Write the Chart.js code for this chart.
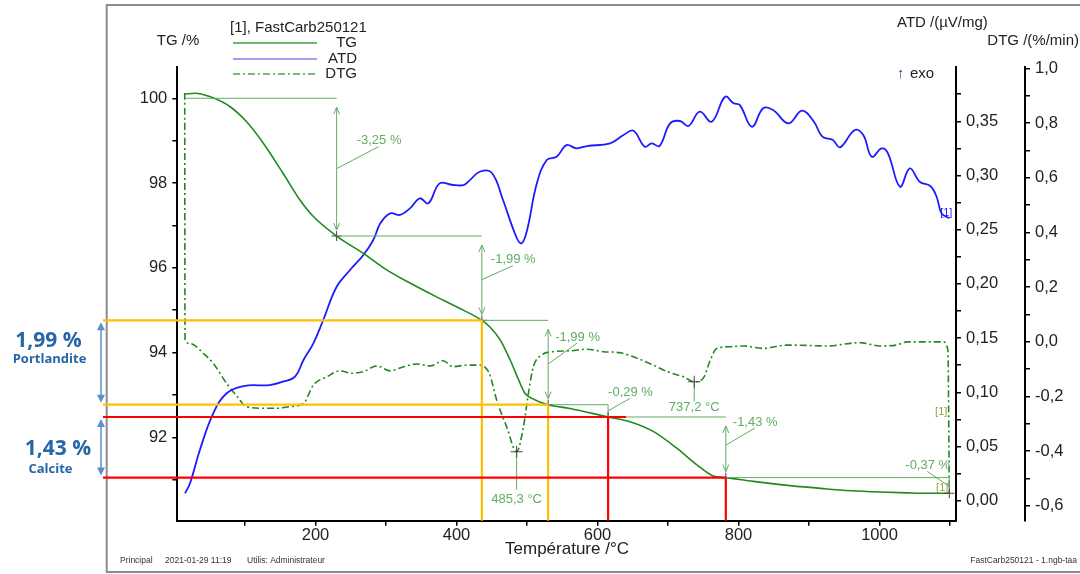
<!DOCTYPE html>
<html>
<head>
<meta charset="utf-8">
<script src="https://cdn.jsdelivr.net/npm/chart.js@4.4.1/dist/chart.umd.min.js"></script>
<style>
html,body{margin:0;padding:0;background:#fff;}
canvas{display:block;}
</style>
</head>
<body>
<canvas id="c" width="1080" height="574"></canvas>
<script>
// ---------- DATA ----------
const tgTemp  = [15, 29, 50, 79, 102, 126, 154, 178, 197, 230, 268, 301, 334, 371, 400, 436, 447, 462, 476, 488, 497, 507, 530, 561, 615, 646, 679, 712, 741, 764, 782, 821, 873, 920, 960, 1000, 1040, 1070, 1099];
const tgValue = [100.10, 100.12, 100.04, 99.80, 99.45, 98.94, 98.23, 97.60, 97.21, 96.75, 96.34, 95.95, 95.64, 95.32, 95.08, 94.76, 94.61, 94.30, 93.83, 93.36, 93.04, 92.92, 92.77, 92.68, 92.48, 92.37, 92.14, 91.75, 91.35, 91.09, 91.05, 90.96, 90.86, 90.79, 90.74, 90.71, 90.69, 90.68, 90.68];

const atdTemp  = [15, 22, 36, 55, 74, 98, 135, 154, 171, 183, 197, 211, 230, 249, 268, 282, 292, 306, 320, 334, 348, 360, 376, 393, 410, 419, 433, 450, 466, 481, 491, 499, 514, 528, 542, 556, 570, 585, 618, 637, 651, 667, 677, 688, 703, 717, 729, 745, 762, 781, 793, 802, 819, 835, 849, 871, 890, 907, 919, 934, 944, 965, 977, 989, 1003, 1012, 1029, 1043, 1057, 1072, 1081, 1088, 1099];
const atdValue = [0.0068, 0.0161, 0.0468, 0.0806, 0.0991, 0.1058, 0.1067, 0.1098, 0.1144, 0.1298, 0.1452, 0.1667, 0.1974, 0.2128, 0.2267, 0.2405, 0.2559, 0.2651, 0.2636, 0.2697, 0.2790, 0.2743, 0.2928, 0.2915, 0.2912, 0.2958, 0.3035, 0.3026, 0.2774, 0.2497, 0.2374, 0.2467, 0.2928, 0.3143, 0.3173, 0.3281, 0.3251, 0.3272, 0.3297, 0.3374, 0.3413, 0.3266, 0.3297, 0.3272, 0.3481, 0.3503, 0.3457, 0.3589, 0.3496, 0.3727, 0.3666, 0.3650, 0.3450, 0.3620, 0.3604, 0.3481, 0.3598, 0.3496, 0.3358, 0.3327, 0.3260, 0.3420, 0.3374, 0.3173, 0.3250, 0.3205, 0.2897, 0.3066, 0.2943, 0.2903, 0.2804, 0.2651, 0.2605];

const dtgTemp  = [14.5, 15, 22, 41, 55, 74, 89, 102, 126, 145, 164, 183, 197, 216, 235, 251, 268, 287, 306, 325, 344, 363, 381, 395, 415, 433, 440, 447, 457, 471, 485.3, 495, 502, 509, 521, 537, 561, 585, 608, 632, 656, 679, 703, 722, 737.2, 750, 760, 769, 788, 807, 835, 868, 878, 925, 972, 1001, 1024, 1039, 1090, 1097, 1099];
const dtgValue = [0.91, 0.007, -0.006, -0.042, -0.079, -0.152, -0.200, -0.237, -0.243, -0.243, -0.237, -0.225, -0.158, -0.128, -0.106, -0.115, -0.109, -0.088, -0.106, -0.091, -0.081, -0.088, -0.069, -0.091, -0.085, -0.085, -0.092, -0.118, -0.213, -0.310, -0.402, -0.310, -0.188, -0.091, -0.048, -0.036, -0.033, -0.027, -0.036, -0.040, -0.060, -0.085, -0.113, -0.128, -0.146, -0.133, -0.067, -0.024, -0.018, -0.015, -0.024, -0.012, -0.012, -0.015, -0.003, -0.015, -0.012, 0.000, 0.000, -0.030, -0.555];

// axis ticks
const xTicks   = [100, 200, 300, 400, 500, 600, 700, 800, 900, 1000, 1100];
const xLabels  = [200, 400, 600, 800, 1000];
const tgTicks  = [91, 92, 93, 94, 95, 96, 97, 98, 99, 100];
const tgLabels = [92, 94, 96, 98, 100];
const atdTicks = [0, 0.025, 0.05, 0.075, 0.1, 0.125, 0.15, 0.175, 0.2, 0.225, 0.25, 0.275, 0.3, 0.325, 0.35, 0.375];
const atdLabels = [0, 0.05, 0.1, 0.15, 0.2, 0.25, 0.3, 0.35];
const dtgTicks = [-0.6, -0.5, -0.4, -0.3, -0.2, -0.1, 0, 0.1, 0.2, 0.3, 0.4, 0.5, 0.6, 0.7, 0.8, 0.9, 1.0];
const dtgLabels = [-0.6, -0.4, -0.2, 0, 0.2, 0.4, 0.6, 0.8, 1.0];

// mass-loss steps (TG)
const stepStartT = [15, 230, 436, 530, 615, 782];
const stepEndT   = [230, 436, 530, 615, 782, 1099];
const stepFrom   = [100.00, 96.75, 94.76, 92.77, 92.48, 91.05];
const stepTo     = [96.75, 94.76, 92.77, 92.48, 91.05, 90.68];
const stepLabels = ['-3,25 %', '-1,99 %', '-1,99 %', '-0,29 %', '-1,43 %', '-0,37 %'];

// DTG peaks
const peakTemp   = [485.3, 737.2];
const peakDtg    = [-0.402, -0.146];
const peakLabels = ['485,3 °C', '737,2 °C'];

// coloured overlay guides
const guideTemp   = [436, 530, 615, 782];
const guideLevel  = [94.76, 92.77, 92.48, 91.05];
const guideColor  = ['#FFC000', '#FFC000', '#FF0000', '#FF0000'];

// left-side callouts
const calloutValue = ['1,99 %', '1,43 %'];
const calloutName  = ['Portlandite', 'Calcite'];
const calloutFrom  = [94.76, 92.48];
const calloutTo    = [92.77, 91.05];

// ---------- STYLE ----------
const FONT = '"Liberation Sans", Arial, sans-serif';
const GREEN = '#1f8a1f';
const ANNOT = '#62ad62';
const OLIVE = '#9a9a40';
const BLUE = '#1c1cff';
const labelDx = [20, 9, 7, 0, 7, -44];
const labelDy = [-28, -20, -27, -20, -23, -20];
const peakLineLen = [38, 20];
const peakLabelDy = [48, 26];
const guideOverhang = [0, 0, 18, 0];
const calloutX = [48.5, 58];
const calloutNameX = [49.5, 50.5];
const calloutValueDy = [-22, 2];
const calloutNameDy = [-3, 22];

const toXY = (xs, ys) => xs.map((x, i) => ({x: x, y: ys[i]}));
const fmt = (v, d) => v.toFixed(d).replace('.', ',');
const near = (arr, v) => arr.some(a => Math.abs(a - v) < 1e-6);

function seg(ctx, x1, y1, x2, y2) { ctx.beginPath(); ctx.moveTo(x1, y1); ctx.lineTo(x2, y2); ctx.stroke(); }
function head(ctx, x, y, dir, w, l) {
  ctx.beginPath(); ctx.moveTo(x - w, y - dir * l); ctx.lineTo(x, y); ctx.lineTo(x + w, y - dir * l); ctx.stroke();
}
function plus(ctx, x, y, s) { seg(ctx, x - s, y, x + s, y); seg(ctx, x, y - s, x, y + s); }
function text(ctx, t, x, y, font, color, align) {
  ctx.font = font; ctx.fillStyle = color; ctx.textAlign = align || 'left'; ctx.textBaseline = 'middle';
  ctx.fillText(t, x, y);
}

const annot = {
  id: 'annot',
  beforeDraw(chart) {
    const ctx = chart.ctx;
    ctx.save();
    ctx.fillStyle = '#fff'; ctx.fillRect(0, 0, chart.width, chart.height);
    ctx.strokeStyle = '#8c8c8c'; ctx.lineWidth = 2;
    ctx.beginPath(); ctx.moveTo(1080, 5); ctx.lineTo(106.7, 5); ctx.lineTo(106.7, 572); ctx.lineTo(1080, 572); ctx.stroke();
    ctx.restore();
  },
  afterDatasetsDraw(chart) {
    const ctx = chart.ctx, sx = chart.scales.x, sT = chart.scales.yTG, sD = chart.scales.yDTG, sA = chart.scales.yATD;
    ctx.save();
    ctx.lineWidth = 1;
    for (let i = 0; i < stepFrom.length; i++) {
      const x0 = sx.getPixelForValue(stepStartT[i]), x1 = sx.getPixelForValue(stepEndT[i]);
      const y0 = sT.getPixelForValue(stepFrom[i]), y1 = sT.getPixelForValue(stepTo[i]);
      ctx.strokeStyle = ANNOT;
      seg(ctx, x0, y0, x1, y0);
      const top = y0 + 9, bot = y1 - 6;
      if (bot - top > 20) {
        seg(ctx, x1, top, x1, bot);
        head(ctx, x1, top, -1, 3, 7);
        head(ctx, x1, bot, 1, 3, 7);
      } else {
        seg(ctx, x1, y0, x1, y1);
      }
      const mid = (i === 4) ? top + (bot - top) * 0.42 : (top + bot) / 2;
      const lx = x1 + labelDx[i], ly = (i === 5 ? (y0 + y1) / 2 : mid) + labelDy[i];
      seg(ctx, x1, (i === 3 || i === 5) ? (y0 + y1) / 2 + (i === 5 ? 1 : 0) : mid, lx + 22, ly + 6);
      text(ctx, stepLabels[i], lx, ly, '13px ' + FONT, ANNOT);
      ctx.strokeStyle = '#444';
      plus(ctx, x1, y1, 5);
    }
    for (let i = 0; i < peakTemp.length; i++) {
      const x = sx.getPixelForValue(peakTemp[i]), y = sD.getPixelForValue(peakDtg[i]);
      ctx.strokeStyle = ANNOT; seg(ctx, x, y, x, y + peakLineLen[i]);
      ctx.strokeStyle = '#444'; plus(ctx, x, y, 6);
      text(ctx, peakLabels[i], x, y + peakLabelDy[i], '13px ' + FONT, ANNOT, 'center');
    }
    const xe = sx.getPixelForValue(1099);
    text(ctx, '[1]', xe - 2, sD.getPixelForValue(-0.255), '11px ' + FONT, OLIVE, 'right');
    text(ctx, '[1]', xe - 1, sT.getPixelForValue(90.68) - 5, '11px ' + FONT, OLIVE, 'right');
    text(ctx, '[1]', xe - 3, sA.getPixelForValue(0.2605) - 5, '11px ' + FONT, BLUE, 'center');
    ctx.restore();
  },
  afterDraw(chart) {
    const ctx = chart.ctx, sx = chart.scales.x, sT = chart.scales.yTG, ca = chart.chartArea;
    ctx.save();
    text(ctx, 'TG /%', 178, 41, '15px ' + FONT, '#222', 'center');
    text(ctx, '[1], FastCarb250121', 230, 28, '15px ' + FONT, '#222');
    text(ctx, 'ATD /(µV/mg)', 897, 23, '15px ' + FONT, '#222');
    text(ctx, 'DTG /(%/min)', 1079, 41, '15px ' + FONT, '#222', 'right');
    text(ctx, '↑', 897, 74, '15px ' + FONT, '#2a5a9a');
    text(ctx, 'exo', 910, 74, '15px ' + FONT, '#222');
    text(ctx, 'Température /°C', 567, 549, '17px ' + FONT, '#222', 'center');
    text(ctx, 'Principal', 120, 561, '8.5px ' + FONT, '#333');
    text(ctx, '2021-01-29 11:19', 165, 561, '8.5px ' + FONT, '#333');
    text(ctx, 'Utilis: Administrateur', 247, 561, '8.5px ' + FONT, '#333');
    text(ctx, 'FastCarb250121 - 1.ngb-taa', 1077, 561, '8.5px ' + FONT, '#333', 'right');
    const legNames = ['TG', 'ATD', 'DTG'];
    const legColors = ['#3ca03c', '#8080f0', '#4aa84a'];
    const legY = [43, 59, 74];
    for (let i = 0; i < 3; i++) {
      ctx.strokeStyle = legColors[i]; ctx.lineWidth = 1.5;
      ctx.setLineDash(i === 2 ? [7, 3, 2, 3] : []);
      seg(ctx, 233, legY[i], 317, legY[i]);
      ctx.setLineDash([]);
      text(ctx, legNames[i], 357, legY[i], '15px ' + FONT, '#222', 'right');
    }
    ctx.lineWidth = 2.2;
    for (let i = 0; i < guideTemp.length; i++) {
      const x = sx.getPixelForValue(guideTemp[i]), y = sT.getPixelForValue(guideLevel[i]);
      ctx.strokeStyle = guideColor[i];
      seg(ctx, 103, y, x + guideOverhang[i], y);
      seg(ctx, x, y, x, ca.bottom);
    }
    for (let i = 0; i < calloutFrom.length; i++) {
      const y0 = sT.getPixelForValue(calloutFrom[i]) + 2, y1 = sT.getPixelForValue(calloutTo[i]) - 2;
      ctx.strokeStyle = '#5a8fd0'; ctx.fillStyle = '#5a8fd0'; ctx.lineWidth = 1.5;
      seg(ctx, 101, y0 + 3, 101, y1 - 3);
      ctx.beginPath(); ctx.moveTo(101, y0); ctx.lineTo(97, y0 + 8); ctx.lineTo(105, y0 + 8); ctx.closePath(); ctx.fill();
      ctx.beginPath(); ctx.moveTo(101, y1); ctx.lineTo(97, y1 - 8); ctx.lineTo(105, y1 - 8); ctx.closePath(); ctx.fill();
      const yc = (y0 + y1) / 2;
      text(ctx, calloutValue[i], calloutX[i], yc + calloutValueDy[i], 'bold 21px "Open Sans", ' + FONT, '#2566a8', 'center');
      text(ctx, calloutName[i], calloutNameX[i], yc + calloutNameDy[i], 'bold 13px "Open Sans", ' + FONT, '#2566a8', 'center');
    }
    ctx.restore();
  }
};

const tickFont = {family: FONT, size: 16.5};
const gridOpt = {drawOnChartArea: false, drawTicks: true, tickLength: 5, color: '#000', lineWidth: 1.5};
const borderOpt = {display: true, color: '#000', width: 2};

new Chart(document.getElementById('c'), {
  type: 'line',
  data: {
    datasets: [
      {label: 'TG', data: toXY(tgTemp, tgValue), yAxisID: 'yTG', borderColor: GREEN, borderWidth: 1.6, pointRadius: 0, cubicInterpolationMode: 'monotone', fill: false},
      {label: 'ATD', data: toXY(atdTemp, atdValue), yAxisID: 'yATD', borderColor: BLUE, borderWidth: 1.8, pointRadius: 0, tension: 0.4, fill: false},
      {label: 'DTG', data: toXY(dtgTemp, dtgValue), yAxisID: 'yDTG', borderColor: GREEN, borderWidth: 1.6, borderDash: [7, 3, 2, 3], pointRadius: 0, cubicInterpolationMode: 'monotone', fill: false}
    ]
  },
  options: {
    responsive: false, animation: false, devicePixelRatio: 1,
    layout: {padding: {top: 66.7, left: 0, right: 0, bottom: 0}},
    plugins: {legend: {display: false}, tooltip: {enabled: false}},
    scales: {
      x: {
        type: 'linear', position: 'bottom', min: 4, max: 1108.5,
        afterFit: s => { s.height = 53.3; },
        afterBuildTicks: s => { s.ticks = xTicks.map(v => ({value: v})); },
        ticks: {callback: v => near(xLabels, v) ? String(v) : '', font: tickFont, color: '#222', padding: 0, maxRotation: 0, autoSkip: false},
        grid: gridOpt, border: borderOpt
      },
      yTG: {
        type: 'linear', position: 'left', min: 90.033, max: 100.745,
        afterFit: s => { s.width = 177.3; },
        afterBuildTicks: s => { s.ticks = tgTicks.map(v => ({value: v})); },
        ticks: {callback: v => near(tgLabels, v) ? String(v) : '', font: tickFont, color: '#222', padding: 5, autoSkip: false},
        grid: gridOpt, border: borderOpt
      },
      yATD: {
        type: 'linear', position: 'right', weight: 0, min: -0.01845, max: 0.4004,
        afterFit: s => { s.width = 69; },
        afterBuildTicks: s => { s.ticks = atdTicks.map(v => ({value: v})); },
        ticks: {callback: v => near(atdLabels, v) ? fmt(v, 2) : '', font: tickFont, color: '#222', padding: 5, autoSkip: false},
        grid: gridOpt, border: borderOpt
      },
      yDTG: {
        type: 'linear', position: 'right', weight: 1, min: -0.654, max: 1.006,
        afterFit: s => { s.width = 55; },
        afterBuildTicks: s => { s.ticks = dtgTicks.map(v => ({value: v})); },
        ticks: {callback: v => near(dtgLabels, v) ? fmt(v, 1) : '', font: tickFont, color: '#222', padding: 5, autoSkip: false},
        grid: gridOpt, border: borderOpt
      }
    }
  },
  plugins: [annot]
});
</script>
</body>
</html>
